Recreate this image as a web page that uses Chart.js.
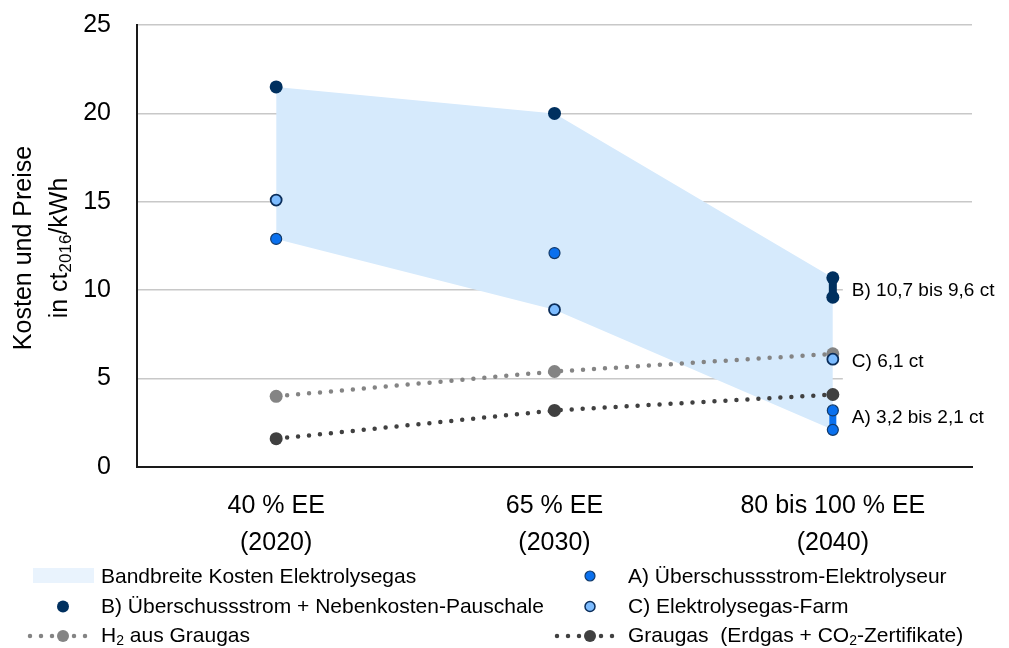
<!DOCTYPE html>
<html>
<head>
<meta charset="utf-8">
<title>Kosten und Preise Elektrolysegas</title>
<script src="https://cdn.jsdelivr.net/npm/chart.js@4.4.1/dist/chart.umd.min.js"></script>
<style>
  html, body { margin: 0; padding: 0; background: #ffffff; }
  canvas { display: block; }
</style>
</head>
<body>
<canvas id="chart" width="1009" height="648"></canvas>
<script>
// Szenarien (Kategorien) und Jahre
const categories = ['40 % EE', '65 % EE', '80 bis 100 % EE'];
const years = ['(2020)', '(2030)', '(2040)'];
const yTicks = [0, 5, 10, 15, 20, 25];

// Bandbreite Kosten Elektrolysegas (obere / untere Grenze)
const bandUpper = [21.5, 20.0, 10.7];
const bandLower = [12.9, 8.9, 2.1];

// A) Überschussstrom-Elektrolyseur: 2020, 2030 und Spanne 2040
const costA = [12.9, 12.1];
const costA2040 = [3.2, 2.1];
// B) Überschussstrom + Nebenkosten-Pauschale
const costB = [21.5, 20.0];
const costB2040 = [10.7, 9.6];
// C) Elektrolysegas-Farm
const costC = [15.1, 8.9, 6.1];

// Vergleichspreise
const h2Graugas = [4.0, 5.4, 6.4];
const graugas = [1.6, 3.2, 4.1];

const FONT = '"Liberation Sans", Arial, Helvetica, sans-serif';
const COL = {
  band: '#d6eafc',
  bandLegend: '#e9f3fd',
  a: '#0a70ee',
  aEdge: '#123a6a',
  b: '#00305f',
  c: '#7dbcff',
  cEdge: '#0b2e5b',
  h2: '#848484',
  gray: '#404040',
  grid: '#c8c8c8',
  axis: '#1a1a1a'
};

const fmt = v => v.toFixed(1).replace('.', ',');

// Punktreihe mit einer senkrechten Spanne in der letzten Kategorie
function rangeSeries(values, range) {
  const pts = values.map((v, i) => ({ x: categories[i], y: v }));
  range.forEach(v => pts.push({ x: categories[categories.length - 1], y: v }));
  return pts;
}
const spanOnly = color => ctx => (ctx.p0DataIndex === ctx.chart.data.labels.length - 1 ? color : 'rgba(0,0,0,0)');

function drawRich(ctx, parts, x, y, size) {
  let cx = x;
  parts.forEach(p => {
    const s = p.sub ? Math.round(size * 0.66) : size;
    ctx.font = s + 'px ' + FONT;
    ctx.fillText(p.t, cx, y + (p.sub ? size * 0.16 : 0));
    cx += ctx.measureText(p.t).width;
  });
  return cx - x;
}
function richWidth(ctx, parts, size) {
  let w = 0;
  parts.forEach(p => {
    const s = p.sub ? Math.round(size * 0.66) : size;
    ctx.font = s + 'px ' + FONT;
    w += ctx.measureText(p.t).width;
  });
  return w;
}

function dot(ctx, x, y, r, fill, stroke, lw) {
  ctx.beginPath();
  ctx.arc(x, y, r, 0, Math.PI * 2);
  ctx.fillStyle = fill;
  ctx.fill();
  if (stroke) { ctx.lineWidth = lw; ctx.strokeStyle = stroke; ctx.stroke(); }
}
function dottedLine(ctx, x0, x1, y, color) {
  ctx.save();
  ctx.strokeStyle = color;
  ctx.lineWidth = 4.5;
  ctx.lineCap = 'round';
  ctx.setLineDash([0, 11]);
  ctx.beginPath();
  ctx.moveTo(x0, y);
  ctx.lineTo(x1, y);
  ctx.stroke();
  ctx.restore();
}

const legendItems = [
  { col: 0, row: 0, parts: [{ t: 'Bandbreite Kosten Elektrolysegas' }], kind: 'band' },
  { col: 1, row: 0, parts: [{ t: 'A) Überschussstrom-Elektrolyseur' }], kind: 'a' },
  { col: 0, row: 1, parts: [{ t: 'B) Überschussstrom + Nebenkosten-Pauschale' }], kind: 'b' },
  { col: 1, row: 1, parts: [{ t: 'C) Elektrolysegas-Farm' }], kind: 'c' },
  { col: 0, row: 2, parts: [{ t: 'H' }, { t: '2', sub: true }, { t: ' aus Graugas' }], kind: 'h2' },
  { col: 1, row: 2, parts: [{ t: 'Graugas  (Erdgas + CO' }, { t: '2', sub: true }, { t: '-Zertifikate)' }], kind: 'gray' }
];

const overlay = {
  id: 'overlay',
  afterDatasetsDraw(chart) {
    const { ctx, scales: { x, y } } = chart;
    const last = categories.length - 1;
    const xr = x.getPixelForValue(last);
    ctx.save();
    // Hintergrund der Werteangaben
    const top = y.getPixelForValue(costB2040[0]) - 14;
    const bottom = y.getPixelForValue(costA2040[1]) + 12;
    ctx.fillStyle = '#ffffff';
    ctx.fillRect(xr + 10, top, chart.width - xr - 10, bottom - top);

    ctx.fillStyle = '#000000';
    ctx.font = '19px ' + FONT;
    ctx.textAlign = 'left';
    ctx.textBaseline = 'middle';
    const tx = xr + 19;
    ctx.fillText('B) ' + fmt(costB2040[0]) + ' bis ' + fmt(costB2040[1]) + ' ct', tx,
      y.getPixelForValue((costB2040[0] + costB2040[1]) / 2) + 3);
    ctx.fillText('C) ' + fmt(costC[last]) + ' ct', tx, y.getPixelForValue(costC[last]) + 3);
    ctx.fillText('A) ' + fmt(costA2040[0]) + ' bis ' + fmt(costA2040[1]) + ' ct', tx,
      y.getPixelForValue((costA2040[0] + costA2040[1]) / 2) - 2);
    ctx.restore();
  },
  afterDraw(chart) {
    const { ctx, chartArea } = chart;
    ctx.save();
    // Achsentitel (gedreht, zweizeilig, mit tiefgestelltem Jahr)
    const midY = (chartArea.top + chartArea.bottom) / 2 + 2;
    ctx.fillStyle = '#000000';
    ctx.textBaseline = 'alphabetic';
    ctx.textAlign = 'left';
    const size = 25;
    const line1 = [{ t: 'Kosten und Preise' }];
    const line2 = [{ t: 'in ct' }, { t: '2016', sub: true }, { t: '/kWh' }];
    [[line1, 31], [line2, 67]].forEach(([parts, bx]) => {
      ctx.save();
      ctx.translate(bx, midY);
      ctx.rotate(-Math.PI / 2);
      const w = richWidth(ctx, parts, size);
      drawRich(ctx, parts, -w / 2, 0, size);
      ctx.restore();
    });

    // Legende
    const textX = [101, 628];
    const rowBase = [583, 612.5, 642];
    const rowMid = [576, 606.5, 636];
    legendItems.forEach(it => {
      const tx = textX[it.col];
      const my = rowMid[it.row];
      const mx = tx - 38;
      switch (it.kind) {
        case 'band':
          ctx.fillStyle = COL.bandLegend;
          ctx.fillRect(tx - 68, my - 8, 61, 15);
          break;
        case 'a':
          dot(ctx, mx, my, 5, COL.a, COL.aEdge, 1.2);
          break;
        case 'b':
          dot(ctx, mx, my, 6, COL.b);
          break;
        case 'c':
          dot(ctx, mx, my, 5, COL.c, COL.cEdge, 1.5);
          break;
        case 'h2':
          dottedLine(ctx, tx - 71, tx - 12, my, COL.h2);
          dot(ctx, mx, my, 6, COL.h2);
          break;
        case 'gray':
          dottedLine(ctx, tx - 71, tx - 12, my, COL.gray);
          dot(ctx, mx, my, 6, COL.gray);
          break;
      }
      ctx.fillStyle = '#000000';
      drawRich(ctx, it.parts, tx, rowBase[it.row], 21);
    });
    ctx.restore();
  }
};

new Chart(document.getElementById('chart'), {
  type: 'line',
  data: {
    labels: categories,
    datasets: [
      {
        label: 'Bandbreite obere Grenze',
        data: bandUpper,
        borderWidth: 0,
        pointRadius: 0,
        fill: false,
        order: 5
      },
      {
        label: 'Bandbreite Kosten Elektrolysegas',
        data: bandLower,
        borderWidth: 0,
        pointRadius: 0,
        backgroundColor: COL.band,
        fill: '-1',
        order: 5
      },
      {
        label: 'H2 aus Graugas',
        data: h2Graugas,
        borderColor: COL.h2,
        borderWidth: 4.5,
        borderDash: [0, 11],
        borderCapStyle: 'round',
        pointRadius: 6.5,
        pointBackgroundColor: COL.h2,
        pointBorderWidth: 0,
        order: 3
      },
      {
        label: 'Graugas (Erdgas + CO2-Zertifikate)',
        data: graugas,
        borderColor: COL.gray,
        borderWidth: 4.5,
        borderDash: [0, 11],
        borderCapStyle: 'round',
        pointRadius: 6.5,
        pointBackgroundColor: COL.gray,
        pointBorderWidth: 0,
        order: 3
      },
      {
        label: 'C) Elektrolysegas-Farm',
        data: costC,
        showLine: false,
        pointRadius: 5.5,
        pointBackgroundColor: COL.c,
        pointBorderColor: COL.cEdge,
        pointBorderWidth: 1.8,
        order: 1
      },
      {
        label: 'B) Überschussstrom + Nebenkosten-Pauschale',
        data: rangeSeries(costB, costB2040),
        borderWidth: 8,
        borderColor: COL.b,
        segment: { borderColor: spanOnly(COL.b) },
        pointRadius: 6.5,
        pointBackgroundColor: COL.b,
        pointBorderWidth: 0,
        order: 1
      },
      {
        label: 'A) Überschussstrom-Elektrolyseur',
        data: rangeSeries(costA, costA2040),
        borderWidth: 7,
        borderColor: COL.a,
        segment: { borderColor: spanOnly(COL.a) },
        pointRadius: 5.5,
        pointBackgroundColor: COL.a,
        pointBorderColor: COL.aEdge,
        pointBorderWidth: 1.2,
        order: 1
      }
    ]
  },
  options: {
    responsive: false,
    animation: false,
    events: [],
    devicePixelRatio: 1,
    elements: { line: { tension: 0 } },
    layout: { padding: { top: 25, right: 37, bottom: 81, left: 0 } },
    plugins: {
      legend: { display: false },
      tooltip: { enabled: false }
    },
    scales: {
      x: {
        type: 'category',
        offset: true,
        grid: { display: false },
        border: { display: true, color: COL.axis, width: 2 },
        ticks: {
          color: '#000000',
          font: { family: FONT, size: 25, lineHeight: 1.48 },
          padding: 13,
          maxRotation: 0,
          autoSkip: false,
          callback: (v, i) => [categories[i], years[i]]
        },
        afterFit: s => { s.height = 100; }
      },
      y: {
        min: 0,
        max: 25,
        afterBuildTicks: s => { s.ticks = yTicks.map(v => ({ value: v })); },
        grid: { color: COL.grid, lineWidth: 1.5, drawTicks: false },
        border: { display: true, color: COL.axis, width: 2 },
        ticks: {
          color: '#000000',
          font: { family: FONT, size: 25 },
          padding: 26
        },
        afterFit: s => { s.width = 137; s.paddingTop = 15; s.paddingBottom = 15; }
      }
    }
  },
  plugins: [overlay]
});
</script>
</body>
</html>
